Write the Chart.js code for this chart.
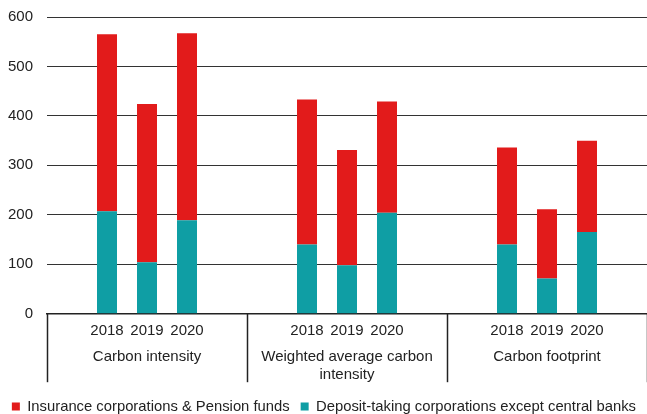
<!DOCTYPE html>
<html lang="en">
<head>
  <meta charset="UTF-8" />
  <title>Carbon metrics</title>
  <script src="https://cdn.jsdelivr.net/npm/chart.js"></script>
  <style>
    html, body { margin: 0; padding: 0; background: #fff; }
    #wrap { width: 647px; height: 414px; }
  </style>
</head>
<body>
  <div id="wrap"><canvas id="carbonChart"></canvas></div>

  <script>
    const years = ["2018", "2019", "2020"];
    const groups = ["Carbon intensity", ["Weighted average carbon", "intensity"], "Carbon footprint"];
    const yTicks = [0, 100, 200, 300, 400, 500, 600];

    // per group: 2018, 2019, 2020
    const deposit = [207, 104, 189, 140, 98, 204, 140, 71, 165];
    const insurance = [358, 320, 378, 293, 233, 225, 196, 140, 185];

    const RED = "#E21B1B";
    const TEAL = "#0F9EA4";
    const INK = "#222";
    const FONT = "'Liberation Sans', Arial, sans-serif";

    // each group = empty slot, 3 years, empty slot
    const labels = [];
    const depSlots = [];
    const insSlots = [];
    groups.forEach((g, gi) => {
      labels.push("");
      depSlots.push(null);
      insSlots.push(null);
      years.forEach((yr, yi) => {
        labels.push(yr);
        depSlots.push(deposit[gi * 3 + yi]);
        insSlots.push(insurance[gi * 3 + yi]);
      });
      labels.push("");
      depSlots.push(null);
      insSlots.push(null);
    });

    // vertical lines between the groups, under the axis
    const separators = {
      id: "separators",
      afterDraw(chart) {
        const x = chart.scales.x;
        const x2 = chart.scales.x2;
        const slot = x.getPixelForValue(1) - x.getPixelForValue(0);
        const ctx = chart.ctx;
        ctx.save();
        ctx.strokeStyle = INK;
        ctx.lineWidth = 1.5;
        for (let i = 0; i <= groups.length; i++) {
          const px = Math.round(x.getPixelForValue(i * 5) - slot / 2) + 0.5;
          ctx.beginPath();
          ctx.moveTo(px, x.top);
          ctx.lineTo(px, x2.bottom - 6);
          ctx.stroke();
        }
        ctx.restore();
      }
    };

    new Chart(document.getElementById("carbonChart"), {
      type: "bar",
      data: {
        labels: labels,
        datasets: [
          {
            label: "Deposit-taking corporations except central banks",
            data: depSlots,
            backgroundColor: TEAL,
            barPercentage: 0.5,
            categoryPercentage: 1.0
          },
          {
            label: "Insurance corporations & Pension funds",
            data: insSlots,
            backgroundColor: RED,
            barPercentage: 0.5,
            categoryPercentage: 1.0
          }
        ]
      },
      options: {
        responsive: true,
        maintainAspectRatio: false,
        animation: false,
        layout: { padding: { top: 17, right: 0, left: 0, bottom: -10 } },
        scales: {
          x: {
            stacked: true,
            grid: { display: false, drawTicks: false },
            border: { display: true, color: INK, width: 1.5 },
            ticks: {
              autoSkip: false,
              maxRotation: 0,
              minRotation: 0,
              padding: 8,
              color: INK,
              font: { family: FONT, size: 15, lineHeight: 1.2 }
            }
          },
          x2: {
            type: "category",
            position: "bottom",
            labels: groups,
            offset: true,
            afterFit: s => { s.height += 4; },
            grid: { display: false, drawTicks: false },
            border: { display: false },
            ticks: {
              autoSkip: false,
              maxRotation: 0,
              minRotation: 0,
              padding: 1,
              color: INK,
              font: { family: FONT, size: 15, lineHeight: 1.15 }
            }
          },
          y: {
            stacked: true,
            min: 0,
            max: 600,
            afterFit: s => { s.width = 47; },
            afterBuildTicks: s => { s.ticks = yTicks.map(v => ({ value: v })); },
            grid: {
              color: ctx => ctx.tick && ctx.tick.value === 0 ? "transparent" : "#333",
              lineWidth: 1,
              borderDash: [3, 2],
              drawTicks: true,
              tickLength: 14,
              tickColor: "transparent"
            },
            border: { display: false },
            ticks: {
              padding: 0,
              color: INK,
              font: { family: FONT, size: 15 }
            }
          }
        },
        plugins: {
          legend: {
            position: "bottom",
            align: "end",
            reverse: true,
            labels: {
              boxWidth: 8,
              boxHeight: 8,
              padding: 11,
              color: INK,
              font: { family: FONT, size: 14.8 }
            }
          },
          tooltip: { enabled: false }
        }
      },
      plugins: [separators]
    });
  </script>
</body>
</html>
